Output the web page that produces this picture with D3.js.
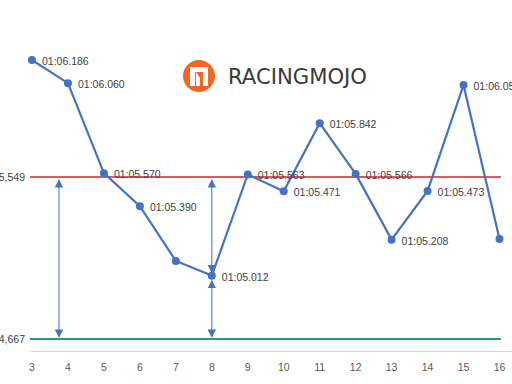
<!DOCTYPE html>
<html><head><meta charset="utf-8">
<script src="https://cdn.jsdelivr.net/npm/d3@7"></script>
<style>body{margin:0;background:#fff;overflow:hidden}svg{display:block}</style>
</head><body>
<svg id="c" width="512" height="384"></svg>
<script>
const laps = [3,4,5,6,7,8,9,10,11,12,13,14,15,16];
const times = [66.186,66.060,65.570,65.390,65.092,65.012,65.563,65.471,65.842,65.566,65.208,65.473,66.050,65.211];
const labels = ["01:06.186","01:06.060","01:05.570","01:05.390","","01:05.012","01:05.563","01:05.471","01:05.842","01:05.566","01:05.208","01:05.473","01:06.050",""];
const refLines = [{v:65.549,label:"65,549",color:"#E8555A"},{v:64.667,label:"64,667",color:"#22A55A"}];
const xTicks = laps;

const svg = d3.select("#c");
const x = d3.scaleLinear().domain([3,16]).range([32,499.5]);
const y = d3.scaleLinear().domain([64.667,65.549]).range([339,177]);
const font = "'Liberation Sans', Arial, sans-serif";

// axis baseline
svg.append("line").attr("x1",30).attr("x2",512).attr("y1",351.5).attr("y2",351.5)
  .attr("stroke","#D9D9D9").attr("stroke-width",1);
svg.selectAll("text.tick").data(xTicks).join("text").attr("class","tick")
  .attr("x",d=>x(d)).attr("y",371).attr("text-anchor","middle")
  .attr("font-family",font).attr("font-size",10.5).attr("fill","#595959").text(d=>d);

// reference lines
refLines.forEach(r=>{
  svg.append("line").attr("x1",30).attr("x2",501).attr("y1",y(r.v)).attr("y2",y(r.v))
    .attr("stroke",r.color).attr("stroke-width",2);
  svg.append("text").attr("x",25).attr("y",y(r.v)+4).attr("text-anchor","end")
    .attr("font-family",font).attr("font-size",10.5).attr("fill","#404040").text(r.label);
});

// arrows
const defs = svg.append("defs");
defs.append("marker").attr("id","ah").attr("viewBox","0 0 10 10").attr("refX",9).attr("refY",5)
  .attr("markerWidth",7).attr("markerHeight",7).attr("orient","auto-start-reverse")
  .append("path").attr("d","M0,0 L10,5 L0,10 z").attr("fill","#4472C4");
function arrow(xv, v1, v2, off1, off2){
  svg.append("line").attr("x1",x(xv)).attr("x2",x(xv)).attr("y1",y(v1)+off1).attr("y2",y(v2)+off2)
    .attr("stroke","#5B84CC").attr("stroke-width",1.2)
    .attr("marker-start","url(#ah)").attr("marker-end","url(#ah)");
}
arrow(3.75, 65.549, 64.667, 3, -2);
arrow(8, 65.549, 65.012, 3, -3);
arrow(8, 65.012, 64.667, 5, -2);

// series line
const line = d3.line().x((d,i)=>x(laps[i])).y(d=>y(d));
svg.append("path").attr("d",line(times)).attr("fill","none").attr("stroke","#4472C4").attr("stroke-width",2.2);
svg.selectAll("circle.pt").data(times).join("circle").attr("class","pt")
  .attr("cx",(d,i)=>x(laps[i])).attr("cy",d=>y(d)).attr("r",4).attr("fill","#4472C4");
svg.selectAll("text.lbl").data(times).join("text").attr("class","lbl")
  .attr("x",(d,i)=>x(laps[i])+10).attr("y",d=>y(d)+5)
  .attr("font-family",font).attr("font-size",10.5).attr("fill","#404040").text((d,i)=>labels[i]);

// logo
const g = svg.append("g").attr("transform","translate(199,76)");
g.append("circle").attr("r",16).attr("fill","#F26522");
g.append("path").attr("d","M-9,10 L-9,-9 L9,-9 L9,10 L4,10 L4,-4 L1,-4 L1,10 L-3,10 L-3,-4 L-4,-4 L-4,10 Z").attr("fill","#fff");
g.append("path").attr("d","M-3,-4 L1,2 L1,-4 Z").attr("fill","#F26522");
svg.append("text").attr("x",228).attr("y",84).attr("textLength",139).attr("lengthAdjust","spacingAndGlyphs")
  .attr("font-family","'DejaVu Sans', sans-serif").attr("font-size",22).attr("font-weight","normal")
  .attr("fill","#3a3a3a").text("RACINGMOJO");
</script>
</body></html>
